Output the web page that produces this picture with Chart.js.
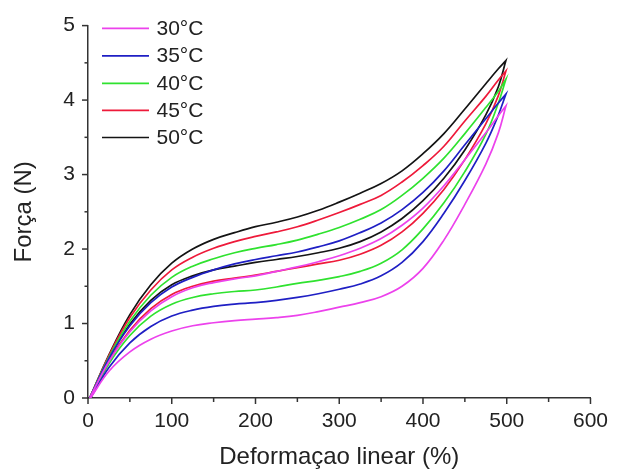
<!DOCTYPE html>
<html><head><meta charset="utf-8">
<script src="https://cdn.jsdelivr.net/npm/chart.js@4.4.0/dist/chart.umd.min.js"></script>
<style>html,body{margin:0;padding:0;background:#fff;}canvas{display:block;}</style>
</head><body>
<canvas id="c" width="619" height="475"></canvas>
<script>
// ---- data ----
const seriesLabels = ['30°C', '35°C', '40°C', '45°C', '50°C'];
const seriesColors = ['#ec42ec', '#1f1fc4', '#2fe22f', '#ee1a3a', '#141414'];

// loading branch (0 -> max strain)
const loadX = [2, 25, 50, 75, 100, 125, 150, 175, 200, 225, 250, 275, 300, 325, 350, 375, 400, 425, 450, 475, 490, 499];
const load30 = [0, 0.49, 0.89, 1.17, 1.36, 1.48, 1.55, 1.60, 1.64, 1.70, 1.76, 1.83, 1.91, 2.01, 2.14, 2.32, 2.55, 2.85, 3.20, 3.56, 3.79, 3.92];
const load35 = [0, 0.53, 0.97, 1.28, 1.49, 1.62, 1.72, 1.80, 1.86, 1.91, 1.96, 2.03, 2.11, 2.22, 2.35, 2.53, 2.76, 3.05, 3.40, 3.75, 3.96, 4.08];
const load40 = [0, 0.55, 1.03, 1.38, 1.62, 1.77, 1.87, 1.95, 2.01, 2.06, 2.12, 2.20, 2.29, 2.40, 2.53, 2.72, 2.95, 3.22, 3.55, 3.90, 4.12, 4.28];
const load45 = [0, 0.57, 1.08, 1.45, 1.72, 1.89, 2.01, 2.10, 2.17, 2.23, 2.30, 2.39, 2.49, 2.60, 2.72, 2.90, 3.12, 3.38, 3.72, 4.05, 4.27, 4.39];
const load50 = [0, 0.58, 1.12, 1.52, 1.81, 2.00, 2.13, 2.22, 2.30, 2.36, 2.43, 2.52, 2.63, 2.75, 2.88, 3.05, 3.28, 3.55, 3.88, 4.22, 4.42, 4.53];

// unloading branch (max strain -> 0)
const unloadX = [499, 490, 475, 450, 425, 400, 375, 350, 325, 300, 275, 250, 225, 200, 175, 150, 125, 100, 75, 50, 25, 3];
const unload30 = [3.92, 3.56, 3.14, 2.60, 2.12, 1.74, 1.50, 1.36, 1.28, 1.22, 1.16, 1.11, 1.08, 1.06, 1.04, 1.01, 0.97, 0.90, 0.79, 0.62, 0.36, 0];
const unload35 = [4.08, 3.80, 3.42, 2.92, 2.48, 2.10, 1.82, 1.64, 1.53, 1.46, 1.40, 1.35, 1.31, 1.28, 1.26, 1.23, 1.18, 1.10, 0.96, 0.74, 0.41, 0];
const unload40 = [4.28, 3.96, 3.54, 3.04, 2.62, 2.27, 1.99, 1.81, 1.70, 1.63, 1.58, 1.54, 1.49, 1.45, 1.43, 1.40, 1.35, 1.26, 1.10, 0.84, 0.46, 0];
const unload45 = [4.39, 4.06, 3.68, 3.20, 2.80, 2.48, 2.23, 2.05, 1.93, 1.85, 1.80, 1.75, 1.70, 1.65, 1.61, 1.57, 1.50, 1.39, 1.20, 0.91, 0.50, 0];
const unload50 = [4.53, 4.18, 3.80, 3.33, 2.95, 2.65, 2.41, 2.23, 2.10, 2.01, 1.95, 1.90, 1.86, 1.82, 1.77, 1.72, 1.64, 1.52, 1.31, 0.99, 0.54, 0];

const xTickLabels = ['0', '100', '200', '300', '400', '500', '600'];
const yTickLabels = ['0', '1', '2', '3', '4', '5'];
const xTitle = 'Deformaçao linear (%)';
const yTitle = 'Força (N)';

const loads = [load30, load35, load40, load45, load50];
const unloads = [unload30, unload35, unload40, unload45, unload50];

// ---- styling ----
const FONT = "'Liberation Sans', Arial, Helvetica, sans-serif";
const axisColor = '#333333';
const textColor = '#222222';
Chart.defaults.font.family = FONT;
Chart.defaults.color = textColor;

const datasets = seriesLabels.map((lab, k) => ({
  label: lab,
  data: loadX.map((x, i) => ({x: x, y: loads[k][i]}))
        .concat(unloadX.map((x, i) => ({x: x, y: unloads[k][i]}))),
  borderColor: seriesColors[k],
  backgroundColor: seriesColors[k],
  borderWidth: 1.7,
  pointRadius: 0,
  showLine: true,
  tension: 0.4,
  fill: false
}));

const tickMarks = {
  id: 'tickMarks',
  afterDraw(chart) {
    const ctx = chart.ctx, xs = chart.scales.x, ys = chart.scales.y, a = chart.chartArea;
    ctx.save();
    ctx.strokeStyle = axisColor;
    ctx.lineWidth = 1.5;
    for (let v = 0; v <= 600; v += 50) {
      const p = xs.getPixelForValue(v);
      const len = (v % 100 === 0) ? 6 : 4;
      ctx.beginPath(); ctx.moveTo(p, a.bottom); ctx.lineTo(p, a.bottom + len); ctx.stroke();
    }
    for (let v = 0; v <= 5.001; v += 0.5) {
      const p = ys.getPixelForValue(v);
      const len = (Math.abs(v - Math.round(v)) < 1e-6) ? 6 : 3.5;
      ctx.beginPath(); ctx.moveTo(a.left, p); ctx.lineTo(a.left - len, p); ctx.stroke();
    }
    ctx.restore();
  }
};

const insideLegend = {
  id: 'insideLegend',
  afterDraw(chart) {
    const ctx = chart.ctx;
    const rows = [28.3, 55.8, 83.3, 110.3, 137.5];
    ctx.save();
    ctx.font = '21px ' + FONT;
    ctx.textBaseline = 'middle';
    ctx.textAlign = 'left';
    chart.data.datasets.forEach((ds, i) => {
      const y = rows[i];
      ctx.strokeStyle = ds.borderColor;
      ctx.lineWidth = 1.7;
      ctx.beginPath(); ctx.moveTo(102, y); ctx.lineTo(149, y); ctx.stroke();
      ctx.fillStyle = textColor;
      ctx.fillText(ds.label, 156.5, y + 0.8);
    });
    ctx.restore();
  }
};

new Chart(document.getElementById('c'), {
  type: 'scatter',
  data: {datasets: datasets},
  plugins: [tickMarks, insideLegend],
  options: {
    responsive: false,
    animation: false,
    events: [],
    layout: {padding: {left: 0, right: 22, top: 16, bottom: 3}},
    plugins: {legend: {display: false}, tooltip: {enabled: false}},
    scales: {
      x: {
        type: 'linear', min: 0, max: 600,
        afterFit(s) { s.height = 74; },
        grid: {display: false, drawTicks: false},
        border: {display: true, color: axisColor, width: 1.5},
        ticks: {stepSize: 100, padding: 11, color: textColor, font: {size: 21, family: FONT},
                maxRotation: 0, autoSkip: false,
                callback: (v) => { const i = xTickLabels.indexOf(String(v)); return i >= 0 ? xTickLabels[i] : ''; }},
        title: {display: true, text: xTitle, color: textColor, font: {size: 24, family: FONT}, padding: {top: 0, bottom: 0}}
      },
      y: {
        type: 'linear', min: 0, max: 5,
        afterFit(s) { s.width = 88; },
        grid: {display: false, drawTicks: false},
        border: {display: true, color: axisColor, width: 1.5},
        ticks: {stepSize: 1, padding: 13, color: textColor, font: {size: 21, family: FONT},
                callback: (v) => { const i = yTickLabels.indexOf(String(v)); return i >= 0 ? yTickLabels[i] : ''; }},
        title: {display: true, text: yTitle, color: textColor, font: {size: 24, family: FONT}, padding: {top: 10, bottom: 4}}
      }
    }
  }
});
</script>
</body></html>
